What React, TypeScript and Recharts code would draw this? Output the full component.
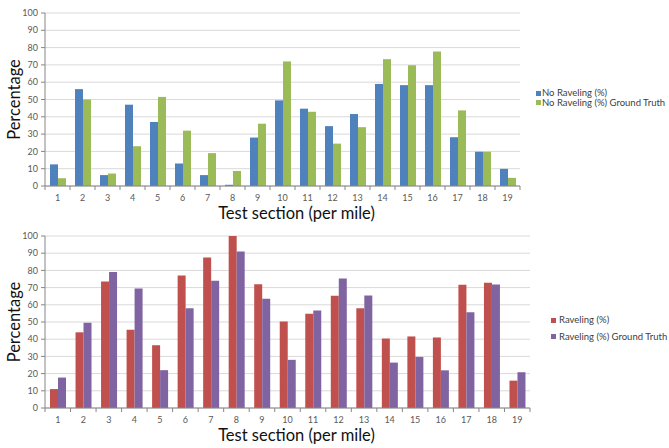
import React from 'react';
import { BarChart, Bar, XAxis, YAxis, CartesianGrid } from 'recharts';

const categories = ['1', '2', '3', '4', '5', '6', '7', '8', '9', '10', '11', '12', '13', '14', '15', '16', '17', '18', '19'];
const noRaveling = [12.5, 56, 6.3, 47, 37, 13, 6.3, 0.7, 28, 49.5, 44.7, 34.6, 41.6, 59, 58.3, 58.3, 28.2, 19.8, 9.9];
const noRavelingGT = [4.5, 50, 7.2, 23, 51.5, 32, 19, 8.7, 36, 72, 42.9, 24.5, 34, 73.3, 69.8, 77.8, 43.7, 19.8, 4.7];
const raveling = [11, 44, 73.5, 45.5, 36.5, 77, 87.5, 100, 72, 50.3, 54.8, 65.2, 58, 40.4, 41.6, 41, 71.7, 72.8, 15.9];
const ravelingGT = [17.7, 49.5, 79, 69.5, 22, 58, 74, 91, 63.5, 28, 56.7, 75.3, 65.4, 26.4, 29.7, 21.9, 55.7, 71.8, 20.8];
const yTicks = [0, 10, 20, 30, 40, 50, 60, 70, 80, 90, 100];

const topData = categories.map((c, i) => ({ cat: c, a: noRaveling[i], b: noRavelingGT[i] }));
const bottomData = categories.map((c, i) => ({ cat: c, a: raveling[i], b: ravelingGT[i] }));

const FONT = 'Lato, "Open Sans", sans-serif';
const AXIS_COLOR = '#868686';
const TICK_COLOR = '#595959';

const W = 669;
const H = 224;
const Y_AXIS_W = 45;

function makeXTick(bandWidth: number, count: number) {
  return (props: any) => {
    const { x, y, payload, index } = props;
    const half = payload && typeof payload.offset === 'number' && payload.offset > 0 ? payload.offset : bandWidth / 2;
    return (
      <g>
        <line x1={x - half} x2={x - half} y1={y} y2={y + 4} stroke={AXIS_COLOR} strokeWidth={1} />
        {index === count - 1 ? (
          <line x1={x + half} x2={x + half} y1={y} y2={y + 4} stroke={AXIS_COLOR} strokeWidth={1} />
        ) : null}
        <text x={x} y={y + 15} textAnchor="middle" fontSize={9} fill={TICK_COLOR} fontFamily={FONT}>
          {payload.value}
        </text>
      </g>
    );
  };
}

function Panel(props: {
  data: any[];
  marginTop: number;
  marginRight: number;
  xAxisHeight: number;
  colorA: string;
  colorB: string;
  nameA: string;
  nameB: string;
}) {
  const { data, marginTop, marginRight, xAxisHeight, colorA, colorB, nameA, nameB } = props;
  const plotW = W - marginRight - Y_AXIS_W;
  const bandWidth = plotW / data.length;
  const plotBottom = H - xAxisHeight;
  const plotTop = marginTop;
  return (
    <BarChart
      width={W}
      height={H}
      data={data}
      margin={{ top: marginTop, right: marginRight, bottom: 0, left: 0 }}
      barCategoryGap={5}
      barGap={0}
    >
      <CartesianGrid vertical={false} stroke="#d9d9d9" strokeWidth={1} />
      <XAxis
        dataKey="cat"
        height={xAxisHeight}
        tickSize={0}
        tickMargin={0}
        tickLine={false}
        interval={0}
        stroke={AXIS_COLOR}
        tick={makeXTick(bandWidth, data.length)}
        label={{
          content: () => (
            <text x={296.5} y={plotBottom + 33} textAnchor="middle" fontSize={16.5} fill="#111" fontFamily={FONT}>
              Test section (per mile)
            </text>
          ),
        }}
      />
      <YAxis
        width={Y_AXIS_W}
        domain={[0, 100]}
        ticks={yTicks}
        interval={0}
        tickSize={4}
        tickMargin={3}
        stroke={AXIS_COLOR}
        tick={{ fontSize: 9, fill: TICK_COLOR, fontFamily: FONT }}
        label={{
          content: () => {
            const cy = (plotTop + plotBottom) / 2;
            return (
              <text
                x={20}
                y={cy}
                transform={`rotate(-90, 20, ${cy})`}
                textAnchor="middle"
                fontSize={16.5}
                fill="#111"
                fontFamily={FONT}
              >
                Percentage
              </text>
            );
          },
        }}
      />
      <Bar dataKey="a" name={nameA} fill={colorA} isAnimationActive={false} />
      <Bar dataKey="b" name={nameB} fill={colorB} isAnimationActive={false} />
    </BarChart>
  );
}

function LegendItem(props: { color: string; label: string; x: number; y: number; textX: number }) {
  const { color, label, x, y, textX } = props;
  return (
    <>
      <div style={{ position: 'absolute', left: x, top: y - 2.5, width: 5, height: 5, background: color }} />
      <div
        style={{
          position: 'absolute',
          left: textX,
          top: y - 7,
          height: 14,
          lineHeight: '14px',
          fontSize: 9.5,
          color: '#404040',
          fontFamily: FONT,
          whiteSpace: 'nowrap',
        }}
      >
        {label}
      </div>
    </>
  );
}

export default function App() {
  return (
    <div style={{ position: 'absolute', left: 0, top: 0, width: W, height: 448, background: '#fff', fontFamily: FONT }}>
      <div style={{ position: 'absolute', left: 0, top: 0 }}>
        <Panel
          data={topData}
          marginTop={13}
          marginRight={149}
          xAxisHeight={38}
          colorA="#4F81BD"
          colorB="#9BBB59"
          nameA="No Raveling (%)"
          nameB="No Raveling (%) Ground Truth"
        />
      </div>
      <div style={{ position: 'absolute', left: 0, top: 224 }}>
        <Panel
          data={bottomData}
          marginTop={12}
          marginRight={139}
          xAxisHeight={40}
          colorA="#C0504D"
          colorB="#8064A2"
          nameA="Raveling (%)"
          nameB="Raveling (%) Ground Truth"
        />
      </div>
      <LegendItem color="#4F81BD" label="No Raveling (%)" x={536} y={93} textX={542} />
      <LegendItem color="#9BBB59" label="No Raveling (%) Ground Truth" x={536} y={102.5} textX={542} />
      <LegendItem color="#C0504D" label="Raveling (%)" x={551} y={320} textX={559} />
      <LegendItem color="#8064A2" label="Raveling (%) Ground Truth" x={551} y={336.7} textX={559} />
    </div>
  );
}
